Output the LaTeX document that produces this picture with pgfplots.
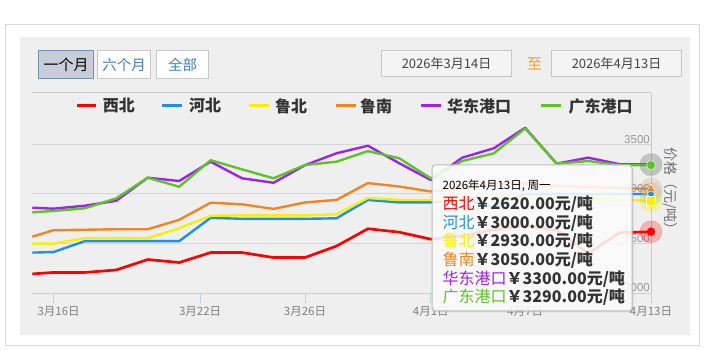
\documentclass[border=0pt]{standalone}
\usepackage{fontspec}
\setmainfont{Noto Sans CJK SC}
\newfontfamily\lat{Liberation Sans}
\usepackage{pgfplots}
\usepackage{pgfplotstable}
\pgfplotsset{compat=1.18}
\usetikzlibrary{shadows}
\definecolor{cred}{HTML}{FF0000}
\definecolor{cblue}{HTML}{1E90E8}
\definecolor{cyellow}{HTML}{F7F000}
\definecolor{corange}{HTML}{F08522}
\definecolor{cpurple}{HTML}{A020F0}
\definecolor{cgreen}{HTML}{5CC425}
\definecolor{framegrey}{HTML}{D9D9D9}
\definecolor{panel}{HTML}{EFEFEF}
\definecolor{gridgrey}{HTML}{D6D6D6}
\definecolor{axisblue}{HTML}{C0D0E0}
\definecolor{bordergrey}{HTML}{C8C8C8}
\definecolor{tickgrey}{HTML}{999999}
\definecolor{xlabgrey}{HTML}{808080}
\definecolor{titlegrey}{HTML}{707070}
\definecolor{selfill}{HTML}{C9CDD9}
\definecolor{selborder}{HTML}{7090B0}
\definecolor{btnblue}{HTML}{3D7FC4}
\definecolor{datefill}{HTML}{F4F4F4}
\definecolor{dategrey}{HTML}{444444}
\definecolor{zhiorange}{HTML}{F0A030}
\definecolor{legtext}{HTML}{333333}
\definecolor{tipborder}{HTML}{BBBBBB}

\pgfplotstableread{
k      r     b     y     o     p     g
-0.67  2195  2410  2500  2570  2862  2815
0      2210  2415  2500  2635  2852  2829
1      2210  2525  2555  2640  2882  2856
2      2235  2525  2555  2645  2932  2956
3      2340  2525  2555  2645  3164  3164
4      2310  2525  2655  2740  3131  3073
5      2410  2760  2780  2912  3325  3340
6      2410  2750  2785  2896  3158  3248
7      2360  2750  2785  2850  3113  3158
8      2360  2750  2785  2915  3290  3292
9      2475  2755  2795  2940  3410  3325
10     2650  2940  2960  3110  3486  3432
11     2615  2915  2940  3075  3309  3359
12     2545  2915  2940  3025  3141  3158
13     2580  2950  2950  3060  3366  3332
14     2640  2870  2960  3100  3460  3409
15     2680  3000  2960  3110  3667  3661
16     2640  3000  2960  3080  3305  3305
17     2400  3000  2950  3070  3366  3332
18     2610  3000  2940  3060  3300  3292
19     2620  3000  2930  3050  3300  3290
}\pricedata

\begin{document}
\begin{tikzpicture}
\useasboundingbox (0,0) rectangle (705pt,351pt);
\fill[white] (0,0) rectangle (705pt,351pt);
\begin{scope}[yshift=351pt,x=1pt,y=-1pt]
  \draw[framegrey, fill=white, line width=1pt] (5.5,24.5) rectangle (699.5,345.5);
  \fill[panel] (20,37) rectangle (690,335);
  % range buttons
  \draw[selborder, fill=selfill, line width=1pt] (38.5,50.5) rectangle (93.5,78.5);
  \node[font=\fontsize{15}{15}\selectfont, text=black] at (66,64.5) {一个月};
  \draw[bordergrey, fill=white, line width=1pt] (97.5,50.5) rectangle (150.5,78.5);
  \node[font=\fontsize{14.5}{15}\selectfont, text=btnblue] at (124,64.5) {六个月};
  \draw[bordergrey, fill=white, line width=1pt] (156.5,50.5) rectangle (208.5,78.5);
  \node[font=\fontsize{14.5}{15}\selectfont, text=btnblue] at (182.5,64.5) {全部};
  % date boxes
  \draw[bordergrey, fill=datefill, line width=1pt] (381.5,50.5) rectangle (511.5,77);
  \node[font=\fontsize{13}{13}\selectfont, text=dategrey] at (446.5,63.5) {2026年3月14日};
  \node[font=\fontsize{15}{15}\selectfont, text=zhiorange] at (534.5,63.5) {至};
  \draw[bordergrey, fill=datefill, line width=1pt] (551.5,50.5) rectangle (681.5,77);
  \node[font=\fontsize{13}{13}\selectfont, text=dategrey] at (616.5,63.5) {2026年4月13日};
\end{scope}

\begin{axis}[
  at={(32.3pt,57.7pt)}, anchor=south west,
  scale only axis, width=618.7pt, height=200.3pt,
  xmin=-0.67, xmax=19, ymin=2000, ymax=4017,
  axis x line*=bottom, axis y line*=right,
  x axis line style={draw=axisblue, line width=1pt},
  y axis line style={draw=bordergrey, line width=1pt},
  xtick={0,4.6667,8,12,15,19},
  xticklabels={\hspace{10.6pt}3月16日,3月22日,3月26日,4月1日,4月7日,4月13日},
  xtick style={draw=axisblue, line width=1pt},
  xtick align=outside, major tick length=10pt,
  ytick={2000,2500,3000,3500},
  yticklabels={},
  ytick style={draw=none},
  ymajorgrids, grid style={draw=gridgrey, line width=1pt},
  xticklabel style={font=\fontsize{11.5}{11.5}\selectfont, text=xlabgrey},
  clip=false,
  line join=round,
]
  \draw[bordergrey, line width=1pt] (rel axis cs:0,1) -- (rel axis cs:1,1);
  \addplot[cred, line width=2.7pt] table[x=k, y=r] {\pricedata};
  \addplot[cblue, line width=2.4pt] table[x=k, y=b] {\pricedata};
  \addplot[cyellow, line width=2.4pt] table[x=k, y=y] {\pricedata};
  \addplot[corange, line width=2.4pt] table[x=k, y=o] {\pricedata};
  \addplot[cpurple, line width=2.4pt] table[x=k, y=p] {\pricedata};
  \addplot[cgreen, line width=2.4pt] table[x=k, y=g] {\pricedata};
  % hover halos
  \addplot[only marks, mark=*, mark size=11pt, color=cred, opacity=0.25] coordinates {(19,2620)};
  \addplot[only marks, mark=*, mark size=11pt, color=cblue, opacity=0.15] coordinates {(19,3000)};
  \addplot[only marks, mark=*, mark size=11pt, color=cyellow, opacity=0.3] coordinates {(19,2930)};
  \addplot[only marks, mark=*, mark size=11pt, color=corange, opacity=0.2] coordinates {(19,3050)};
  \addplot[only marks, mark=*, mark size=11pt, color=cpurple, opacity=0.2] coordinates {(19,3300)};
  \addplot[only marks, mark=*, mark size=11pt, color=cgreen, opacity=0.22] coordinates {(19,3290)};
  % hover markers
  \addplot[only marks, mark=*, mark size=4pt, color=cred] coordinates {(19,2620)};
  \addplot[only marks, mark=diamond*, mark size=5pt, mark options={draw=white, fill=cblue}] coordinates {(19,3000)};
  \addplot[only marks, mark=square*, mark size=4.5pt, mark options={draw=white, fill=cyellow}] coordinates {(19,2930)};
  \addplot[only marks, mark=triangle*, mark size=5pt, mark options={draw=white, fill=corange}] coordinates {(19,3050)};
  \addplot[only marks, mark=triangle*, mark size=5pt, mark options={rotate=180, draw=white, fill=cpurple}] coordinates {(19,3300)};
  \addplot[only marks, mark=*, mark size=4.5pt, mark options={draw=white, fill=cgreen}] coordinates {(19,3290)};
  % y tick labels, inside on the right
  \node[anchor=south east, inner sep=1pt, font=\lat\fontsize{11.5}{12}\selectfont, text=tickgrey] at (axis cs:19,3500) {3500};
  \node[anchor=south east, inner sep=1pt, font=\lat\fontsize{11.5}{12}\selectfont, text=tickgrey] at (axis cs:19,3000) {3000};
  \node[anchor=south east, inner sep=1pt, font=\lat\fontsize{11.5}{12}\selectfont, text=tickgrey] at (axis cs:19,2500) {2500};
  \node[anchor=south east, inner sep=1pt, font=\lat\fontsize{11.5}{12}\selectfont, text=tickgrey] at (axis cs:19,2000) {2000};
\end{axis}

\begin{scope}[yshift=351pt,x=1pt,y=-1pt]
  % legend
  \draw[cred, line width=3pt] (76.6,106) -- (95.5,106);
  \node[anchor=west, inner sep=0, font=\bfseries\fontsize{16}{16}\selectfont, text=legtext] at (102.7,106) {西北};
  \draw[cblue, line width=3pt] (162,106) -- (182,106);
  \node[anchor=west, inner sep=0, font=\bfseries\fontsize{16}{16}\selectfont, text=legtext] at (189,106) {河北};
  \draw[cyellow, line width=3pt] (249,106) -- (269,106);
  \node[anchor=west, inner sep=0, font=\bfseries\fontsize{16}{16}\selectfont, text=legtext] at (275,106) {鲁北};
  \draw[corange, line width=3pt] (335.6,106) -- (356,106);
  \node[anchor=west, inner sep=0, font=\bfseries\fontsize{16}{16}\selectfont, text=legtext] at (360,106) {鲁南};
  \draw[cpurple, line width=3pt] (421,106) -- (441,106);
  \node[anchor=west, inner sep=0, font=\bfseries\fontsize{16}{16}\selectfont, text=legtext] at (447,106) {华东港口};
  \draw[cgreen, line width=3pt] (540.5,106) -- (561,106);
  \node[anchor=west, inner sep=0, font=\bfseries\fontsize{16}{16}\selectfont, text=legtext] at (568.5,106) {广东港口};
  % y axis title
  \node[rotate=-90, font=\fontsize{14}{14}\selectfont, text=titlegrey] at (670,192) {价格（元/吨）};
  % tooltip
  \draw[rounded corners=3pt, draw=tipborder, fill=white, fill opacity=0.85, line width=1pt,
        drop shadow={opacity=0.18, shadow xshift=1.5pt, shadow yshift=-1.5pt}]
        (432,165) rectangle (632,311);
  \node[anchor=west, inner sep=0, font=\fontsize{11.5}{12}\selectfont, text=black] at (442.5,186) {2026年4月13日, 周一};
  \node[anchor=west, inner sep=0, font=\fontsize{16}{16}\selectfont] at (442.5,204) {\textcolor{cred}{西北}\textcolor{legtext}{\bfseries ￥2620.00元/吨}};
  \node[anchor=west, inner sep=0, font=\fontsize{16}{16}\selectfont] at (442.5,222.7) {\textcolor{cblue}{河北}\textcolor{legtext}{\bfseries ￥3000.00元/吨}};
  \node[anchor=west, inner sep=0, font=\fontsize{16}{16}\selectfont] at (442.5,241.3) {\textcolor{cyellow}{鲁北}\textcolor{legtext}{\bfseries ￥2930.00元/吨}};
  \node[anchor=west, inner sep=0, font=\fontsize{16}{16}\selectfont] at (442.5,260) {\textcolor{corange}{鲁南}\textcolor{legtext}{\bfseries ￥3050.00元/吨}};
  \node[anchor=west, inner sep=0, font=\fontsize{16}{16}\selectfont] at (442.5,278.7) {\textcolor{cpurple}{华东港口}\textcolor{legtext}{\bfseries ￥3300.00元/吨}};
  \node[anchor=west, inner sep=0, font=\fontsize{16}{16}\selectfont] at (442.5,297.3) {\textcolor{cgreen}{广东港口}\textcolor{legtext}{\bfseries ￥3290.00元/吨}};
\end{scope}
\end{tikzpicture}
\end{document}
